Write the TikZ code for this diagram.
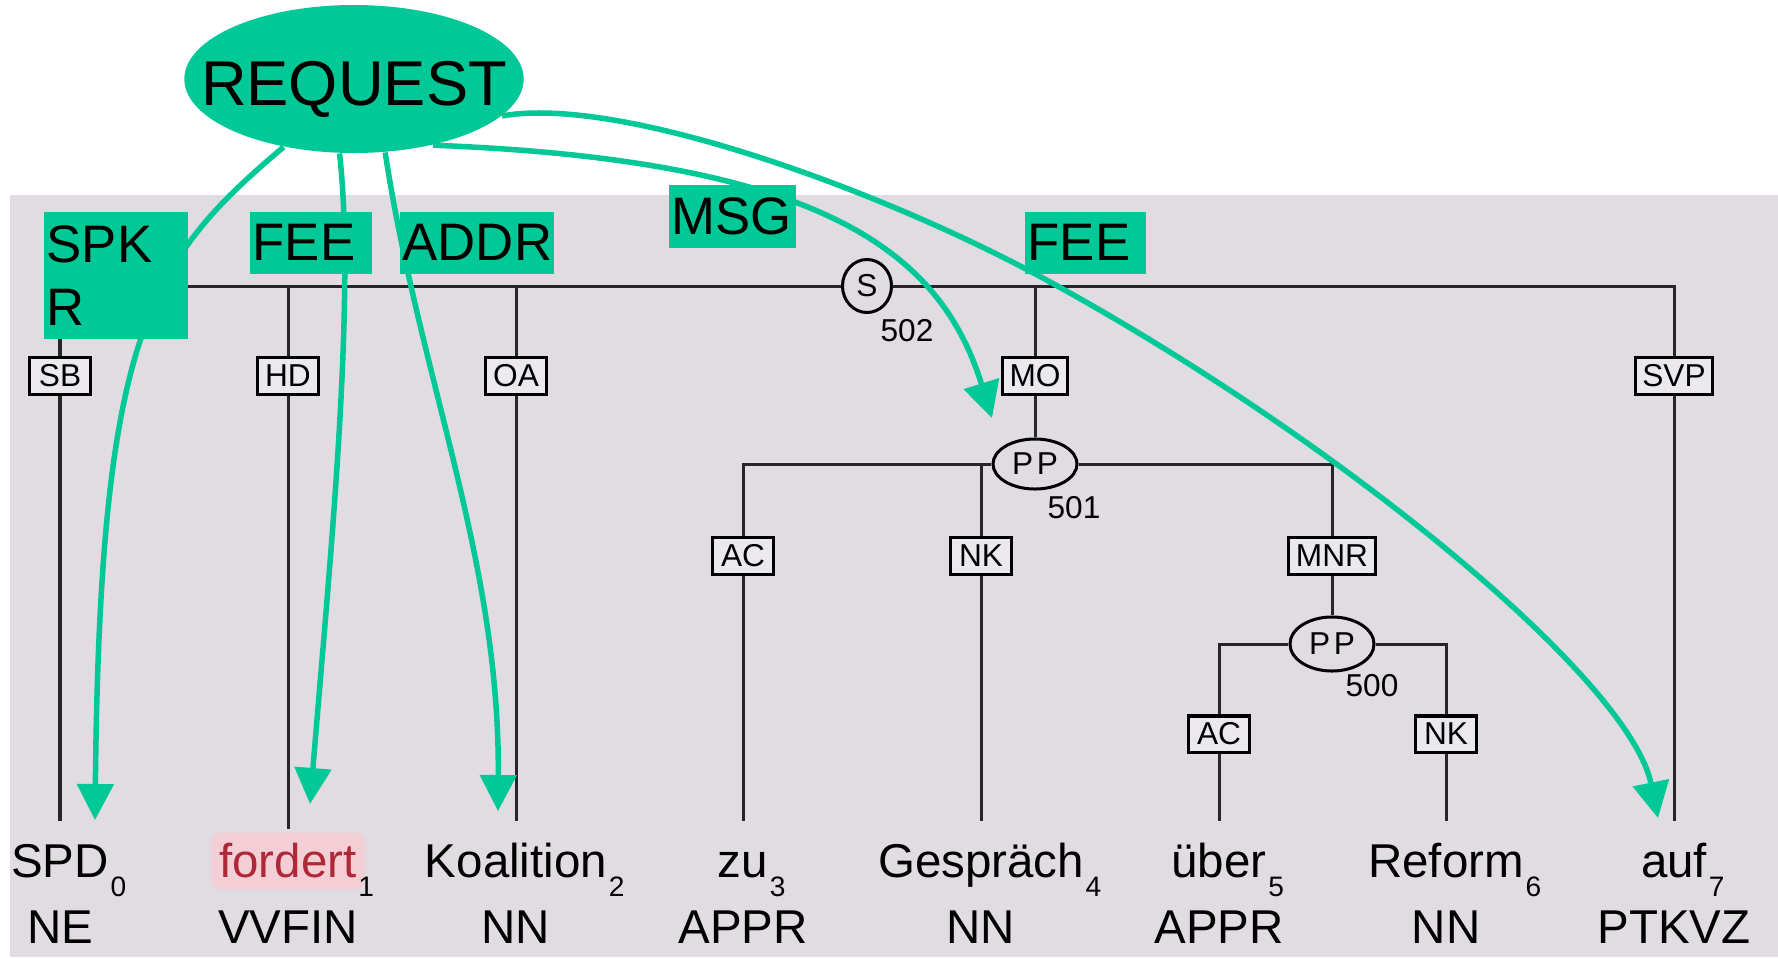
\documentclass[tikz,border=0pt]{standalone}
\usepackage{fontspec}
\setmainfont{Liberation Sans}
\usepackage{tikz}
\usetikzlibrary{arrows.meta,shapes.geometric,positioning,calc}
\definecolor{framegreen}{RGB}{0,200,150}
\definecolor{treebg}{RGB}{224,220,226}
\definecolor{boxfill}{RGB}{236,233,238}
\definecolor{feered}{RGB}{175,40,55}
\definecolor{feepink}{RGB}{244,206,213}
\newcommand{\tokidx}[2]{#1\rlap{\kern0.5pt\raisebox{-5.5pt}{\fontsize{8}{8}\selectfont #2}}}

\begin{document}
\begin{tikzpicture}[x=0.01cm,y=-0.01cm,
    edgelab/.style={draw=black,line width=0.03cm,fill=boxfill,inner xsep=0.07cm,inner ysep=0pt,
      minimum width=0.6cm,minimum height=0.36cm,font=\fontsize{9}{9}\selectfont},
    catnode/.style={draw=black,line width=0.03cm,ellipse,fill=treebg,inner sep=0pt,font=\fontsize{9}{9}\selectfont},
    idlab/.style={inner sep=0pt,font=\fontsize{9}{9}\selectfont},
    wordtext/.style={anchor=base,inner sep=0.08cm,text height=0.36cm,text depth=0.12cm,font=\fontsize{13.5}{14}\selectfont},
    tagtext/.style={anchor=base,inner sep=0pt,font=\fontsize{13.5}{14}\selectfont},
    treeline/.style={line width=0.03cm,black!85},
    rolebox/.style={fill=framegreen,anchor=north west,inner xsep=0.03cm,inner ysep=0pt,align=left,
      font=\fontsize{15}{18}\selectfont},
    rolearrow/.style={framegreen,line width=0.055cm,-{Triangle[length=0.36cm,width=0.36cm]}}]
    \useasboundingbox (0,0) rectangle (1778,957);
    \fill[white] (0,0) rectangle (1778,957);
    \fill[treebg] (10,195) rectangle (1778,957);

    \node[catnode,minimum width=0.49cm,minimum height=0.53cm] (s) at (867,286) {S};
    \node[idlab] (sid) at (907,331) {502};
    \node[edgelab] (sb) at (60,376) {SB};
    \node[edgelab] (hd) at (288,376) {HD};
    \node[edgelab] (oa) at (516,376) {OA};
    \node[edgelab] (mo) at (1035,376) {MO};
    \node[edgelab] (svp) at (1674,376) {SVP};
    \node[catnode,minimum width=0.84cm,minimum height=0.5cm] (pp1) at (1035,464) {P\kern1pt P};
    \node[idlab] (pp1id) at (1074,508) {501};
    \node[edgelab] (ac1) at (743,556) {AC};
    \node[edgelab] (nk1) at (981,556) {NK};
    \node[edgelab] (mnr) at (1332,556) {MNR};
    \node[catnode,minimum width=0.84cm,minimum height=0.54cm] (pp2) at (1332,644) {P\kern1pt P};
    \node[idlab] (pp2id) at (1372,686) {500};
    \node[edgelab] (ac2) at (1219,734) {AC};
    \node[edgelab] (nk2) at (1446,734) {NK};

    \node[wordtext] (w0) at (60,877) {\tokidx{SPD}{0}};
    \node[wordtext,text depth=0.04cm,fill=feepink,rounded corners=0.08cm] (w1) at (288,877) {\tokidx{\textcolor{feered}{fordert}}{1}};
    \node[wordtext] (w2) at (516,877) {\tokidx{Koalition}{2}};
    \node[wordtext] (w3) at (743,877) {\tokidx{zu}{3}};
    \node[wordtext] (w4) at (981,877) {\tokidx{Gespräch}{4}};
    \node[wordtext] (w5) at (1219,877) {\tokidx{über}{5}};
    \node[wordtext] (w6) at (1446,877) {\tokidx{Reform}{6}};
    \node[wordtext] (w7) at (1674,877) {\tokidx{auf}{7}};
    \node[tagtext] (t0) at (60,943) {NE};
    \node[tagtext] (t1) at (288,943) {VVFIN};
    \node[tagtext] (t2) at (516,943) {NN};
    \node[tagtext] (t3) at (743,943) {APPR};
    \node[tagtext] (t4) at (981,943) {NN};
    \node[tagtext] (t5) at (1219,943) {APPR};
    \node[tagtext] (t6) at (1446,943) {NN};
    \node[tagtext] (t7) at (1674,943) {PTKVZ};

    \draw[treeline] (s) -| (sb);
    \draw[treeline] (s) -| (hd);
    \draw[treeline] (s) -| (oa);
    \draw[treeline] (s) -| (mo);
    \draw[treeline] (s) -| (svp);
    \draw[treeline] (mo) -- (pp1);
    \draw[treeline] (pp1) -| (ac1);
    \draw[treeline] (pp1) -| (nk1);
    \draw[treeline] (pp1) -| (mnr);
    \draw[treeline] (mnr) -- (pp2);
    \draw[treeline] (pp2) -| (ac2);
    \draw[treeline] (pp2) -| (nk2);
    \draw[treeline,shorten >=0.11cm] (sb) -- (w0);
    \draw[treeline,shorten >=0.03cm] (hd) -- (w1);
    \draw[treeline,shorten >=0.11cm] (oa) -- (w2);
    \draw[treeline,shorten >=0.11cm] (ac1) -- (w3);
    \draw[treeline,shorten >=0.11cm] (nk1) -- (w4);
    \draw[treeline,shorten >=0.11cm] (ac2) -- (w5);
    \draw[treeline,shorten >=0.11cm] (nk2) -- (w6);
    \draw[treeline,shorten >=0.11cm] (svp) -- (w7);

    \node[ellipse,fill=framegreen,inner xsep=-0.33cm,inner ysep=0.263cm,text height=0.52cm,text depth=0pt,
      font=\fontsize{18}{18}\selectfont] (request) at (354,79) {REQUEST};
    \coordinate (spdtip) at (95,820);
    \coordinate (fordtip) at (310,804);
    \coordinate (koaltip) at (498,811);
    \coordinate (pptip) at (992,418);
    \coordinate (auftip) at (1658,818);
    \draw[rolearrow] (request.224) .. controls (150,260) and (100,330) .. (spdtip);
    \draw[rolearrow] (request.259) .. controls (356,300) and (330,560) .. (fordtip);
    \draw[rolearrow] (request.293) .. controls (420,380) and (500,560) .. (koaltip);
    \draw[rolearrow] (request.320) .. controls (820,160) and (940,250) .. (pptip);
    \draw[rolearrow] (request.346) .. controls (620,95) and (880,190) .. (1041,277)
      .. controls (1341,440) and (1630,680) .. (auftip);

    \node[rolebox,text width=1.38cm,minimum height=1.27cm] (spkr) at (43,211) {SPK\\R};
    \node[rolebox,text width=1.16cm,minimum height=0.62cm] (fee) at (249,211) {FEE};
    \node[rolebox,text width=1.48cm,minimum height=0.62cm] (addr) at (399,211) {ADDR};
    \node[rolebox,text width=1.21cm,minimum height=0.63cm] (msg) at (668,184) {MSG};
    \node[rolebox,text width=1.15cm,minimum height=0.62cm] (feesvp) at (1024,211) {FEE};
\end{tikzpicture}
\end{document}
